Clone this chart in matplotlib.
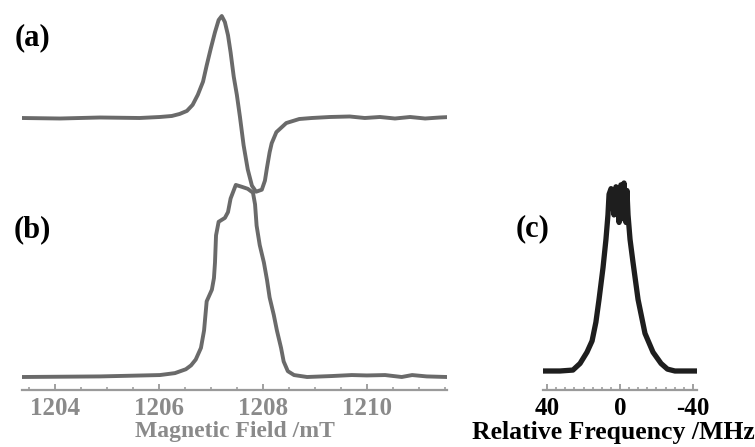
import numpy as np
import matplotlib
matplotlib.use("Agg")
import matplotlib.pyplot as plt

# =========================
# DATA
# =========================

# (a) first-derivative EPR trace, field in mT, intensity normalised to the peak
field_a = [1203.37, 1204.10, 1204.87, 1205.63, 1206.02, 1206.25, 1206.40, 1206.54,
           1206.65, 1206.75, 1206.85, 1206.92, 1207.00, 1207.08, 1207.15, 1207.21,
           1207.27, 1207.33, 1207.38, 1207.44, 1207.50, 1207.56, 1207.63, 1207.71,
           1207.79, 1207.87, 1207.98, 1208.04, 1208.08, 1208.13, 1208.17, 1208.26,
           1208.45, 1208.70, 1208.94, 1209.29, 1209.67, 1209.96, 1210.25, 1210.54,
           1210.83, 1211.12, 1211.40, 1211.60]
int_a = [0.00, -0.005, 0.005, 0.00, 0.01, 0.02, 0.04, 0.07,
         0.13, 0.23, 0.36, 0.52, 0.69, 0.85, 0.97, 1.01,
         0.95, 0.82, 0.65, 0.41, 0.23, 0.01, -0.27, -0.51,
         -0.67, -0.73, -0.71, -0.62, -0.49, -0.34, -0.25, -0.14,
         -0.05, -0.01, 0.00, 0.01, 0.015, 0.00, 0.01, -0.005,
         0.01, -0.005, 0.005, 0.01]

# (b) integrated (absorption) trace
field_b = [1203.37, 1204.87, 1206.02, 1206.31, 1206.52, 1206.62, 1206.71, 1206.81,
           1206.87, 1206.92, 1207.02, 1207.06, 1207.08, 1207.10, 1207.15, 1207.27,
           1207.33, 1207.38, 1207.48, 1207.60, 1207.71, 1207.81, 1207.85, 1207.88,
           1207.94, 1208.02, 1208.08, 1208.13, 1208.21, 1208.27, 1208.35, 1208.40,
           1208.48, 1208.60, 1208.85, 1209.33, 1209.71, 1210.00, 1210.35, 1210.67,
           1210.87, 1211.15, 1211.54]
int_b = [0.00, 0.003, 0.01, 0.02, 0.04, 0.06, 0.09, 0.15,
         0.24, 0.39, 0.45, 0.51, 0.59, 0.73, 0.80, 0.82,
         0.85, 0.92, 0.99, 0.98, 0.97, 0.95, 0.89, 0.78,
         0.68, 0.59, 0.50, 0.41, 0.32, 0.24, 0.15, 0.08,
         0.03, 0.01, 0.00, 0.005, 0.01, 0.008, 0.01, 0.00,
         0.01, 0.003, 0.00]

# (c) frequency-domain trace, relative frequency in MHz
freq_c = [42.2, 32.9, 25.8, 21.9, 18.1, 15.3, 13.2, 11.5, 9.3, 7.7,
          6.6, 6.0, 4.9, 3.3, 2.2, 0.5, -0.5, -1.6, -2.2, -3.3,
          -3.8, -4.4, -5.5, -7.1, -9.9, -13.7, -18.1, -22.5, -26.0, -30.1,
          -42.2]
int_c = [0.00, 0.00, 0.005, 0.04, 0.10, 0.16, 0.26, 0.38, 0.55, 0.70,
         0.83, 0.94, 0.97, 0.83, 0.98, 0.79, 0.99, 0.81, 1.00, 0.79,
         0.96, 0.83, 0.70, 0.58, 0.38, 0.20, 0.10, 0.04, 0.01, 0.00,
         0.00]

field_ticks = [1204, 1206, 1208, 1210]
freq_ticks = [40, 0, -40]
freq_ticklabels = ["40", "0", "-40"]

# =========================
# FIGURE
# =========================
W, H = 755, 447
fig = plt.figure(figsize=(W / 100, H / 100), dpi=100)
plt.rcParams["font.family"] = ["Liberation Serif", "DejaVu Serif"]

GREY = "#8a8a8a"


def px_axes(x0, x1, ytop, ybot):
    return fig.add_axes([x0 / W, 1 - ybot / H, (x1 - x0) / W, (ybot - ytop) / H])


def style_axis(ax, lab_color):
    for s in ["top", "right", "left"]:
        ax.spines[s].set_visible(False)
    ax.spines["bottom"].set_color("#9a9a9a")
    ax.spines["bottom"].set_linewidth(1.6)
    ax.set_yticks([])
    ax.tick_params(axis="x", which="both", direction="in", colors="#a0a0a0",
                   labelcolor=lab_color, labelsize=18, pad=5)
    ax.tick_params(axis="x", which="major", length=4, width=1.4)
    ax.tick_params(axis="x", which="minor", length=2.5, width=1.2)
    for t in ax.get_xticklabels():
        t.set_fontweight("bold")


# ---- (a) and (b): magnetic field axis ----
ax1 = px_axes(22, 447, 5, 390)
ax1.set_xlim(1203.37, 1211.54)
ax1.set_ylim(0, 385)
ax1.plot(field_a, 272 + 101 * np.array(int_a), color="#6a6a6a", lw=2.8,
         solid_joinstyle="round")
ax1.plot(field_b, 13 + 194 * np.array(int_b), color="#6a6a6a", lw=2.8,
         solid_joinstyle="round")
ax1.set_xticks(field_ticks)
ax1.set_xticks(np.arange(1203.5, 1211.6, 0.5), minor=True)
style_axis(ax1, GREY)

# ---- (c): relative frequency axis ----
ax2 = px_axes(543, 697, 140, 390)
ax2.set_xlim(42.2, -42.2)
ax2.set_ylim(0, 250)
ax2.plot(freq_c, 19 + 188 * np.array(int_c), color="#1e1e1e", lw=3.8,
         solid_joinstyle="round")
ax2.set_xticks(freq_ticks)
ax2.set_xticklabels(freq_ticklabels)
ax2.set_xticks(np.arange(-40, 41, 5), minor=True)
style_axis(ax2, "black")

# ---- labels ----
lab = dict(fontsize=22, fontweight="bold", ha="center", va="center")
fig.text(32 / W, 1 - 38 / H, "(a)", **lab)
fig.text(32 / W, 1 - 230 / H, "(b)", **lab)
fig.text(533 / W, 1 - 229 / H, "(c)", **lab)

fig.text(235 / W, 1 - 431 / H, "Magnetic Field /mT", fontsize=17,
         fontweight="bold", color=GREY, ha="center", va="center")
fig.text(613 / W, 1 - 432 / H, "Relative Frequency /MHz", fontsize=18.5,
         fontweight="bold", color="black", ha="center", va="center")

fig.savefig("out.png", dpi=100)
